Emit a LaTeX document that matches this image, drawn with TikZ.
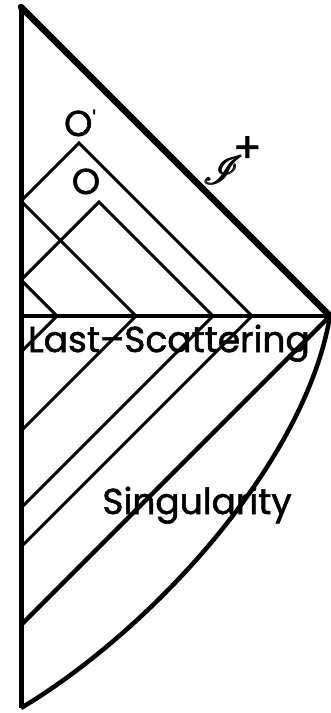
\documentclass[tikz,border=0pt]{standalone}
\usepackage{fontspec}
\setmainfont{Poppins}[FakeBold=1.5]
\usepackage{amsmath}
\usepackage{mathrsfs}
\usepackage{graphicx}
\begin{document}
\begin{tikzpicture}[x=1pt,y=-1pt,
  thinline/.style={line width=3pt},
  axisline/.style={line width=5pt},
  scri/.style={line width=6.5pt,line cap=round},
  bigtext/.style={font=\fontsize{36}{40}\selectfont,inner sep=0pt}]
\useasboundingbox (0,0) rectangle (331,713);
% key points
\coordinate (A) at (21,7);
\coordinate (B) at (21,708);
\coordinate (R) at (330,316);
\coordinate (H) at (21,316);
\coordinate (Op) at (79,143);
\coordinate (O) at (99,202);
\coordinate (a1) at (21,201);
\coordinate (a2) at (21,280);
\coordinate (h1) at (57,316);
\coordinate (h2) at (136,316);
\coordinate (h3) at (213,316);
\coordinate (h4) at (252,316);
\coordinate (b1) at (21,352);
\coordinate (b2) at (21,431);
\coordinate (b3) at (21,508);
\coordinate (b4) at (21,547);
\coordinate (b5) at (21,625);
% light cones
\draw[thinline,line join=miter] (a1) -- (Op) -- (h4);
\draw[thinline,line join=miter] (a2) -- (O) -- (h3);
\draw[thinline] (a1) -- (h2);
\draw[thinline] (a2) -- (h1);
\draw[thinline] (h1) -- (b1);
\draw[thinline] (h2) -- (b2);
\draw[thinline] (h3) -- (b3);
\draw[thinline] (h4) -- (b4);
\draw[line width=4.5pt] (R) -- (b5);
% last scattering
\draw[line width=4pt] (H) -- (R);
% singularity curve
\draw[line width=4.5pt] (R) .. controls (305,464) and (150,631) .. (B);
% axis and scri
\draw[axisline] (A) -- (B);
\draw[scri] (A) -- (R);
% labels
\node[bigtext,anchor=base] (ls) at (169,352) {Last–Scattering};
\node[bigtext,anchor=base] (sg) at (197,514) {Singularity};
\node[bigtext,anchor=base] (lop) at (80,136) {O\raisebox{0.25em}{\scalebox{0.6}{\textquotesingle}}};
\node[bigtext,anchor=base] (lo) at (86,194) {O};
\node[inner sep=0pt] (sI) at (224,170) {\scalebox{4}{$\pmb{\mathscr{I}}$}\rlap{\kern-11pt\smash{\raisebox{22pt}{\fontsize{42}{44}\selectfont +}}}};
\end{tikzpicture}
\end{document}
